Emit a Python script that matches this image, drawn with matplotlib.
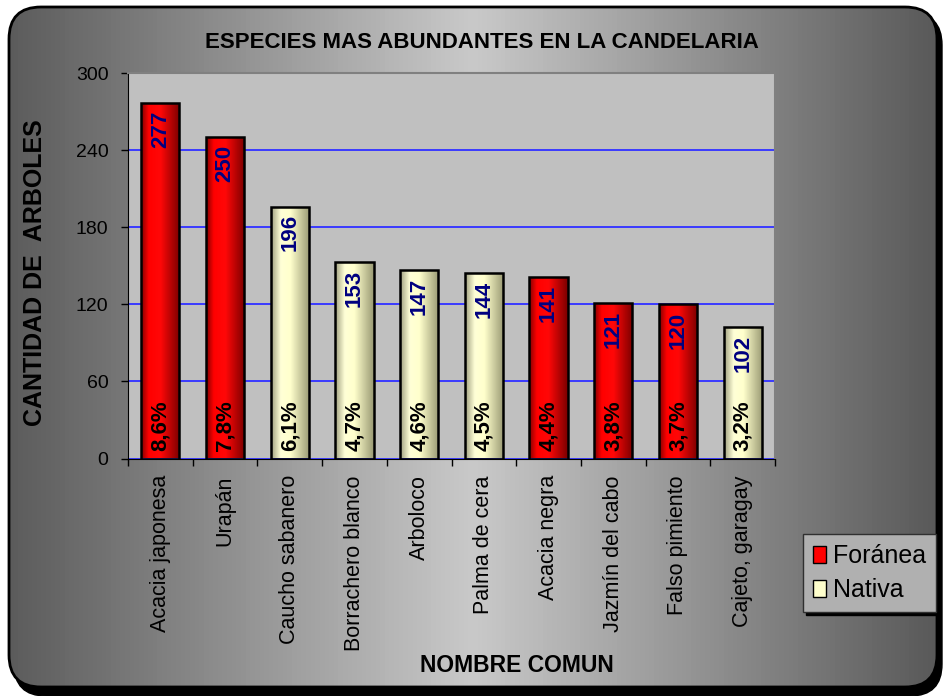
import numpy as np
import matplotlib
matplotlib.use('Agg')
import matplotlib.pyplot as plt
from matplotlib.patches import FancyBboxPatch, Patch

plt.rcParams['font.family'] = ['Liberation Sans', 'DejaVu Sans']

# datos
nombres = ['Acacia japonesa', 'Urapán', 'Caucho sabanero', 'Borrachero blanco', 'Arboloco',
           'Palma de cera', 'Acacia negra', 'Jazmín del cabo', 'Falso pimiento', 'Cajeto, garagay']
cantidad = [277, 250, 196, 153, 147, 144, 141, 121, 120, 102]
porcentaje = ['8,6%', '7,8%', '6,1%', '4,7%', '4,6%', '4,5%', '4,4%', '3,8%', '3,7%', '3,2%']
origen = ['Foránea', 'Foránea', 'Nativa', 'Nativa', 'Nativa', 'Nativa', 'Foránea', 'Foránea',
          'Foránea', 'Nativa']
yticks = [0, 60, 120, 180, 240, 300]

W, H = 943, 696
fig = plt.figure(figsize=(W / 100, H / 100), dpi=100)
fig.patch.set_facecolor('white')


def gradiente(pos, cols, n=200):
    t = np.linspace(0, 1, n)
    cols = np.array(cols)
    g = np.stack([np.interp(t, pos, cols[:, k]) for k in range(3)], axis=-1)
    return g[np.newaxis, :, :]


# fondo redondeado con degradado
ax_bg = fig.add_axes([0, 0, 1, 1], zorder=0)
ax_bg.set_xlim(0, W)
ax_bg.set_ylim(0, H)
ax_bg.axis('off')
sombra = FancyBboxPatch((14, 0), 928, 683, boxstyle='round,pad=0,rounding_size=32',
                        facecolor='black', edgecolor='black')
ax_bg.add_patch(sombra)
marco = FancyBboxPatch((9, 9), 928, 680, boxstyle='round,pad=0,rounding_size=32',
                       facecolor='none', edgecolor='black', linewidth=2)
ax_bg.add_patch(marco)
g_fondo = gradiente([0, 0.5, 1], [(0.36, 0.36, 0.36), (0.79, 0.79, 0.79), (0.35, 0.35, 0.35)])
im = ax_bg.imshow(g_fondo, extent=[9, 937, 9, 689], aspect='auto', zorder=1)
im.set_clip_path(marco)
marco.set_zorder(2)

# grafico principal
ax = fig.add_axes([128 / W, 1 - 458.5 / H, (775 - 128) / W, (458.5 - 73) / H], zorder=1)
ax.set_facecolor('#c0c0c0')
x = np.arange(len(nombres))
colores = {'Foránea': '#ff0000', 'Nativa': '#ffffcc'}
grad = {
    'Foránea': gradiente([0, 0.2, 0.5, 1], [(0.5, 0, 0), (1, 0, 0), (1, 0.03, 0.03), (0.48, 0, 0)]),
    'Nativa': gradiente([0, 0.25, 0.5, 1], [(0.62, 0.62, 0.5), (1, 1, 0.84), (1, 1, 0.8), (0.6, 0.6, 0.45)]),
}
barras = ax.bar(x, cantidad, width=0.59, color=[colores[o] for o in origen],
                edgecolor='black', linewidth=1.8, zorder=3)
for b, o in zip(barras, origen):
    x0 = b.get_x()
    img = ax.imshow(grad[o], extent=[x0, x0 + b.get_width(), 0, b.get_height()],
                    aspect='auto', zorder=3.5)
    img.set_clip_path(b)
    b.set_zorder(4)
    b.set_facecolor('none')

for xi, v, p in zip(x, cantidad, porcentaje):
    ax.text(xi, v - 6, str(v), rotation=90, ha='center', va='top', color='#000080',
            fontsize=16, fontweight='bold', zorder=5)
    ax.text(xi, 6, p, rotation=90, ha='center', va='bottom', color='black',
            fontsize=16, fontweight='bold', zorder=5)

ax.set_xlim(-0.5, len(nombres) - 0.5)
ax.set_ylim(0, 300)
ax.set_yticks(yticks)
ax.yaxis.grid(True, color='#3a3aff', linewidth=1.4, zorder=1)
ax.set_axisbelow(True)
ax.tick_params(axis='y', labelsize=14, length=5, width=1, pad=9, colors='black')
ax.set_xticks(x)
ax.set_xticklabels(nombres, rotation=90, fontsize=15.5)
ax.tick_params(axis='x', length=0, pad=12)
ax.set_xticks(np.arange(len(nombres) + 1) - 0.5, minor=True)
ax.tick_params(axis='x', which='minor', length=5, width=1)
ax.spines['left'].set_color('black')
ax.spines['bottom'].set_color('black')
ax.spines['top'].set_color('#808080')
ax.spines['right'].set_color('#808080')
ax.spines['top'].set_linewidth(1.5)
ax.spines['right'].set_linewidth(1.5)

fig.text(482 / W, 1 - 43 / H, 'ESPECIES MAS ABUNDANTES EN LA CANDELARIA', ha='center', va='center',
         fontsize=16, fontweight='bold', zorder=5)
fig.text(517 / W, 1 - 666 / H, 'NOMBRE COMUN', ha='center', va='center',
         fontsize=16.5, fontweight='bold', zorder=5)
fig.text(35 / W, 1 - 273 / H, 'CANTIDAD DE  ARBOLES', ha='center', va='center', rotation=90,
         fontsize=18, fontweight='bold', zorder=5)

# leyenda
handles = [Patch(facecolor='#ff0000', edgecolor='black'), Patch(facecolor='#ffffcc', edgecolor='black')]
leg = ax.legend(handles, ['Foránea', 'Nativa'], loc='upper left',
                bbox_to_anchor=(803 / W, 1 - 534 / H), bbox_transform=fig.transFigure,
                fontsize=18, frameon=True, fancybox=False, facecolor='#b0b0b0', edgecolor='#303030',
                framealpha=1, shadow={'color': 'black', 'alpha': 1},
                handlelength=0.5, handleheight=0.65, handletextpad=0.3, labelspacing=0.4,
                borderpad=0.4, borderaxespad=0)
leg.get_frame().set_linewidth(1)

fig.savefig('out.png', dpi=100)
